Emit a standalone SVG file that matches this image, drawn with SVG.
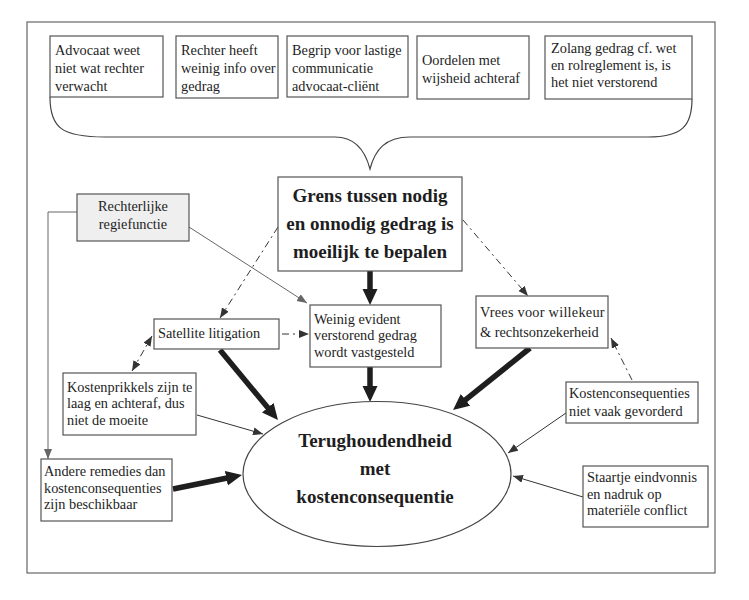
<svg xmlns="http://www.w3.org/2000/svg" width="749" height="600" viewBox="0 0 749 600" font-family="Liberation Serif, Times New Roman, DejaVu Serif, serif">
<defs>
<style>
.box{fill:#fff;stroke:#555;stroke-width:1.2}
.grey{fill:#efefef}
.t{font-size:14.3px;fill:#1e1e1e}
.b{font-size:19px;font-weight:bold;fill:#1e1e1e;text-anchor:middle}
.thin{stroke:#333;stroke-width:1;fill:none;marker-end:url(#ah)}
.gthin{stroke:#666;stroke-width:1;fill:none;marker-end:url(#ahg)}
.dd{stroke:#333;stroke-width:1;fill:none;stroke-dasharray:7 4 2 4;marker-end:url(#ah)}
.thick{stroke:#1e1e1e;stroke-width:5.5;fill:none;marker-end:url(#ahb)}
</style>
<marker id="ah" markerUnits="userSpaceOnUse" markerWidth="11" markerHeight="9" refX="10" refY="4" orient="auto-start-reverse"><path d="M0,0 L10,4 L0,8 z" fill="#333"/></marker>
<marker id="ahg" markerUnits="userSpaceOnUse" markerWidth="11" markerHeight="9" refX="10" refY="4" orient="auto"><path d="M0,0 L10,4 L0,8 z" fill="#666"/></marker>
<marker id="ahb" markerUnits="userSpaceOnUse" markerWidth="18" markerHeight="16" refX="6" refY="7.5" orient="auto"><path d="M0,0 L16,7.5 L0,15 z" fill="#1e1e1e"/></marker>
</defs>
<rect x="0" y="0" width="749" height="600" fill="#fff"/>
<rect x="27" y="22" width="688" height="551" fill="none" stroke="#666" stroke-width="1.2"/>

<g id="connectors">
<path d="M50,97 C50,128 62,137 105,137 L335,137 C355,137 365,150 370,169 C375,150 385,137 410,137 L648,137 C682,137 692,126 692,99" fill="none" stroke="#444" stroke-width="1.2"/>
<line class="thick" x1="370" y1="271" x2="370" y2="295"/>
<line class="thick" x1="370" y1="367" x2="370" y2="392"/>
<line class="thick" x1="220" y1="350" x2="271.6" y2="412.3"/>
<line class="thick" x1="530" y1="348" x2="460.8" y2="403.7"/>
<line class="thick" x1="173" y1="489" x2="232.2" y2="477"/>
<line class="gthin" x1="189" y1="227" x2="307" y2="303"/>
<polyline class="gthin" points="77,212 48,212 48,459"/>
<line class="thin" x1="197" y1="415" x2="263" y2="434"/>
<line class="thin" x1="566" y1="413" x2="508" y2="453"/>
<line class="thin" x1="583" y1="497" x2="513" y2="476"/>
<line class="dd" x1="278" y1="227" x2="220" y2="318"/>
<line class="dd" x1="463" y1="220" x2="528" y2="296"/>
<line class="dd" x1="632" y1="380" x2="611" y2="338"/>
<line class="dd" x1="282" y1="334" x2="309" y2="334" stroke-dasharray="5 4"/>
<line class="dd" x1="132" y1="371" x2="152" y2="336" style="marker-start:url(#ah)"/>
</g>

<g id="n1"><rect class="box" x="50" y="36" width="113" height="61"/>
<text class="t" x="55"><tspan x="55" y="55">Advocaat weet</tspan><tspan x="55" y="73">niet wat rechter</tspan><tspan x="55" y="91">verwacht</tspan></text></g>
<g id="n2"><rect class="box" x="176" y="36" width="102" height="62"/>
<text class="t"><tspan x="181" y="55">Rechter heeft</tspan><tspan x="181" y="73">weinig info over</tspan><tspan x="181" y="91">gedrag</tspan></text></g>
<g id="n3"><rect class="box" x="287" y="36" width="121" height="61"/>
<text class="t"><tspan x="292" y="55">Begrip voor lastige</tspan><tspan x="292" y="73">communicatie</tspan><tspan x="292" y="91">advocaat-cliënt</tspan></text></g>
<g id="n4"><rect class="box" x="417" y="36" width="112" height="63"/>
<text class="t"><tspan x="422" y="65">Oordelen met</tspan><tspan x="422" y="83">wijsheid achteraf</tspan></text></g>
<g id="n5"><rect class="box" x="545" y="36" width="147" height="63"/>
<text class="t"><tspan x="551" y="53">Zolang gedrag cf. wet</tspan><tspan x="551" y="70">en rolreglement is, is</tspan><tspan x="551" y="87">het niet verstorend</tspan></text></g>

<g id="grens"><rect class="box" x="278" y="177" width="184" height="94"/>
<text class="b"><tspan x="370" y="202">Grens tussen nodig</tspan><tspan x="370" y="230">en onnodig gedrag is</tspan><tspan x="370" y="258">moeilijk te bepalen</tspan></text></g>

<g id="regie"><rect class="box grey" x="77" y="194" width="112" height="47"/>
<text class="t" text-anchor="middle"><tspan x="133" y="211">Rechterlijke</tspan><tspan x="133" y="229">regiefunctie</tspan></text></g>

<g id="satellite"><rect class="box" x="154" y="319" width="125" height="30"/>
<text class="t" x="158" y="338">Satellite litigation</text></g>

<g id="weinig"><rect class="box" x="310" y="305" width="131" height="62"/>
<text class="t"><tspan x="314" y="324">Weinig evident</tspan><tspan x="314" y="340">verstorend gedrag</tspan><tspan x="314" y="357">wordt vastgesteld</tspan></text></g>

<g id="vrees"><rect class="box" x="476" y="296" width="132" height="52"/>
<text class="t"><tspan x="480" y="317" letter-spacing="0.25">Vrees voor willekeur</tspan><tspan x="480" y="337">&amp; rechtsonzekerheid</tspan></text></g>

<g id="kostencons"><rect class="box" x="566" y="382" width="132" height="41"/>
<text class="t"><tspan x="569" y="398">Kostenconsequenties</tspan><tspan x="569" y="416">niet vaak gevorderd</tspan></text></g>

<g id="kostenprikkels"><rect class="box" x="63" y="373" width="133" height="62"/>
<text class="t"><tspan x="67" y="392">Kostenprikkels zijn te</tspan><tspan x="67" y="408">laag en achteraf, dus</tspan><tspan x="67" y="425">niet de moeite</tspan></text></g>

<g id="andere"><rect class="box" x="41" y="459" width="131" height="62"/>
<text class="t"><tspan x="44" y="476">Andere remedies dan</tspan><tspan x="44" y="493">kostenconsequenties</tspan><tspan x="44" y="509">zijn beschikbaar</tspan></text></g>

<g id="staartje"><rect class="box" x="583" y="466" width="125" height="61"/>
<text class="t"><tspan x="587" y="482">Staartje eindvonnis</tspan><tspan x="587" y="499">en nadruk op</tspan><tspan x="587" y="515">materiële conflict</tspan></text></g>

<g id="terug"><ellipse cx="377" cy="474" rx="134" ry="72.5" fill="#fff" stroke="#444" stroke-width="1.2"/>
<text class="b"><tspan x="375" y="447">Terughoudendheid</tspan><tspan x="375" y="475">met</tspan><tspan x="375" y="503">kostenconsequentie</tspan></text></g>
</svg>
